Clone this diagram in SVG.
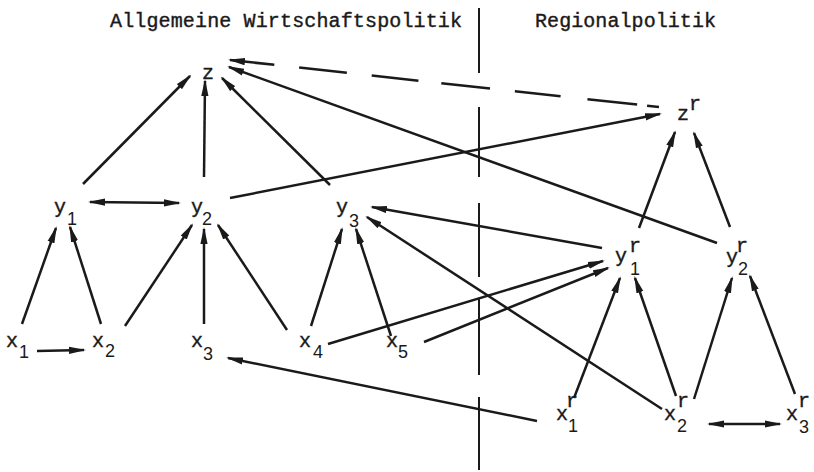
<svg xmlns="http://www.w3.org/2000/svg" width="814" height="472" viewBox="0 0 814 472">
<defs>
<marker id="ah" markerUnits="userSpaceOnUse" viewBox="0 0 17 8" markerWidth="17" markerHeight="8" refX="15" refY="4" orient="auto-start-reverse">
<path d="M0,0.4 L17,4 L0,7.6 z" fill="#1a1a1a"/>
</marker>
</defs>
<style>
.t{font-family:"Liberation Mono","DejaVu Sans Mono",monospace;font-size:20px;fill:#1a1a1a;stroke:#1a1a1a;stroke-width:0.4}
.s{font-family:"Liberation Sans","DejaVu Sans",sans-serif;font-size:18px;fill:#1a1a1a;text-anchor:middle}
.c line{stroke:#1a1a1a;stroke-width:2.5;fill:none}
.a{marker-end:url(#ah)}
.d{marker-start:url(#ah);marker-end:url(#ah)}
.div line{stroke:#1a1a1a;stroke-width:2}
</style>
<rect width="814" height="472" fill="#fff"/>
<g id="titles">
<text class="t" x="110" y="27" textLength="352">Allgemeine Wirtschaftspolitik</text>
<text class="t" x="535" y="27" textLength="181">Regionalpolitik</text>
</g>
<g id="divider" class="div">
<line x1="479" y1="8" x2="479" y2="73"/>
<line x1="479" y1="107" x2="479" y2="177"/>
<line x1="479" y1="203" x2="479" y2="277"/>
<line x1="479" y1="298" x2="479" y2="375"/>
<line x1="479" y1="397" x2="479" y2="470"/>
</g>
<g id="connectors" class="c">
<line class="a" x1="83" y1="184" x2="190" y2="76"/>
<line class="a" x1="204" y1="177" x2="205" y2="81"/>
<line class="a" x1="330" y1="185" x2="222" y2="78"/>
<line class="a" x1="717" y1="243" x2="229" y2="67"/>
<line class="a" x1="230" y1="198" x2="660" y2="114"/>
<line class="a" x1="659" y1="107" x2="230" y2="60" stroke-dasharray="12 10 50 27 46 25 49 23 47 25 48 25 70"/>
<line class="d" x1="90" y1="202" x2="179" y2="203"/>
<line class="a" x1="22" y1="324" x2="56" y2="228"/>
<line class="a" x1="101" y1="324" x2="70" y2="227"/>
<line class="a" x1="125" y1="326" x2="192" y2="225"/>
<line class="a" x1="204" y1="324" x2="204" y2="229"/>
<line class="a" x1="287" y1="330" x2="218" y2="225"/>
<line class="a" x1="311" y1="326" x2="342" y2="229"/>
<line class="a" x1="391" y1="336" x2="356" y2="229"/>
<line class="a" x1="328" y1="344" x2="603" y2="261"/>
<line class="a" x1="424" y1="342" x2="608" y2="268"/>
<line class="a" x1="602" y1="248" x2="372" y2="207"/>
<line class="a" x1="662" y1="409" x2="367" y2="217"/>
<line class="a" x1="537" y1="421" x2="228" y2="358"/>
<line class="a" x1="37" y1="351" x2="84" y2="350"/>
<line class="a" x1="574" y1="398" x2="620" y2="278"/>
<line class="a" x1="676" y1="396" x2="635" y2="278"/>
<line class="a" x1="694" y1="399" x2="732" y2="278"/>
<line class="a" x1="795" y1="394" x2="750" y2="276"/>
<line class="d" x1="709" y1="424" x2="780" y2="424"/>
<line class="a" x1="639" y1="228" x2="675" y2="132"/>
<line class="a" x1="730" y1="227" x2="694" y2="133"/>
</g>
<g id="z"><text class="t" x="202" y="79">z</text></g>
<g id="zr"><text class="t" x="677" y="120">z</text><text class="t" x="689" y="110">r</text></g>
<g id="y1"><text class="t" x="54" y="213">y</text><text class="s" x="72" y="225">1</text></g>
<g id="y2"><text class="t" x="191" y="213">y</text><text class="s" x="207" y="225">2</text></g>
<g id="y3"><text class="t" x="336" y="213">y</text><text class="s" x="354" y="227">3</text></g>
<g id="y1r"><text class="t" x="615" y="262">y</text><text class="t" x="629" y="252">r</text><text class="s" x="635" y="275">1</text></g>
<g id="y2r"><text class="t" x="726" y="263">y</text><text class="t" x="736" y="252">r</text><text class="s" x="743" y="275">2</text></g>
<g id="x1"><text class="t" x="6" y="347">x</text><text class="s" x="24" y="358">1</text></g>
<g id="x2"><text class="t" x="92" y="347">x</text><text class="s" x="110" y="357">2</text></g>
<g id="x3"><text class="t" x="191" y="347">x</text><text class="s" x="208" y="360">3</text></g>
<g id="x4"><text class="t" x="299" y="347">x</text><text class="s" x="318" y="358">4</text></g>
<g id="x5"><text class="t" x="386" y="347">x</text><text class="s" x="403" y="358">5</text></g>
<g id="x1r"><text class="t" x="556" y="420">x</text><text class="t" x="566" y="407">r</text><text class="s" x="573" y="432">1</text></g>
<g id="x2r"><text class="t" x="664" y="420">x</text><text class="t" x="677" y="407">r</text><text class="s" x="682" y="432">2</text></g>
<g id="x3r"><text class="t" x="786" y="420">x</text><text class="t" x="798" y="407">r</text><text class="s" x="804" y="433">3</text></g>
</svg>
